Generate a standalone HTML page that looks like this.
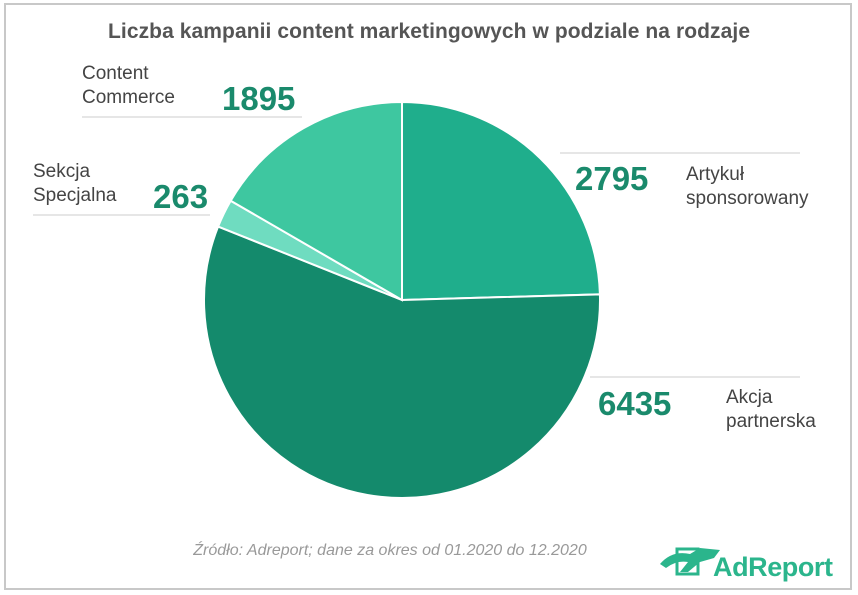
<!DOCTYPE html>
<html><head><meta charset="utf-8"><style>
html,body{margin:0;padding:0;background:#fff}
body{width:858px;height:595px;position:relative;overflow:hidden;font-family:"Liberation Sans",sans-serif}
.frame{position:absolute;left:4px;top:3px;width:848px;height:587px;border:2px solid #c8c8c8;box-sizing:border-box}
</style></head><body>
<div class="frame"></div>
<svg width="858" height="595" style="position:absolute;left:0;top:0">
<text x="429" y="38" text-anchor="middle" font-size="21" font-weight="bold" fill="#555" textLength="642">Liczba kampanii content marketingowych w podziale na rodzaje</text>
<g id="slices"></g>
<g fill="none" stroke="#ddd" stroke-width="1.5">
<line x1="82" y1="117" x2="302" y2="117"/>
<line x1="33" y1="215" x2="210" y2="215"/>
<line x1="560" y1="153" x2="800" y2="153"/>
<line x1="590" y1="377" x2="800" y2="377"/>
</g>
<g font-size="19" fill="#444">
<text x="82" y="79">Content</text>
<text x="82" y="103">Commerce</text>
<text x="33" y="177">Sekcja</text>
<text x="33" y="201">Specjalna</text>
<text x="686" y="180">Artykuł</text>
<text x="686" y="204">sponsorowany</text>
<text x="726" y="403">Akcja</text>
<text x="726" y="427">partnerska</text>
</g>
<g font-size="33" font-weight="bold" fill="#1a8a6c">
<text x="222" y="110">1895</text>
<text x="153" y="208">263</text>
<text x="575" y="190">2795</text>
<text x="598" y="415">6435</text>
</g>
<text x="390" y="555" text-anchor="middle" font-size="16" font-style="italic" fill="#999">Źródło: Adreport; dane za okres od 01.2020 do 12.2020</text>
<g>
<path d="M660 564 q12 -14 30 -10 l10 -6 l20 2 l-6 8 l-14 4 l-12 10 l-8 0 l8 -10 q-12 -2 -22 6z" fill="#2bb58c"/>
<rect x="677" y="549" width="21" height="25" fill="none" stroke="#2bb58c" stroke-width="3"/>
<text x="713" y="576" font-size="27" font-weight="bold" fill="#2bb58c" textLength="120">AdReport</text>
</g>
</svg>
<script>
const categories=["Artykuł sponsorowany","Akcja partnerska","Sekcja Specjalna","Content Commerce"];
const values=[2795,6435,263,1895];
const colors=["#1fae8c","#148a6c","#6fdcc0","#3ec7a0"];
const cx=402,cy=300,r=198;
const g=document.getElementById('slices');
const total=values.reduce((a,b)=>a+b,0);
let a0=-Math.PI/2;
values.forEach((v,i)=>{
  const a1=a0+v/total*2*Math.PI;
  const x0=cx+r*Math.cos(a0),y0=cy+r*Math.sin(a0),x1=cx+r*Math.cos(a1),y1=cy+r*Math.sin(a1);
  const p=document.createElementNS('http://www.w3.org/2000/svg','path');
  p.setAttribute('d',`M${cx},${cy}L${x0},${y0}A${r},${r} 0 ${a1-a0>Math.PI?1:0} 1 ${x1},${y1}Z`);
  p.setAttribute('fill',colors[i]);
  p.setAttribute('stroke','#fff');
  p.setAttribute('stroke-width','2');
  
  
  g.appendChild(p);
  a0=a1;
});
</script>
</body></html>
